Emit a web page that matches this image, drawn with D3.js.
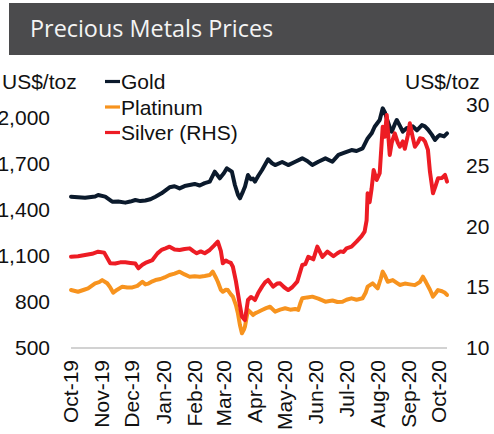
<!DOCTYPE html>
<html>
<head>
<meta charset="utf-8">
<script src="https://cdn.jsdelivr.net/npm/d3@7"></script>
<style>
  html, body { margin: 0; padding: 0; background: #ffffff; }
  svg { display: block; }
</style>
</head>
<body>
<svg id="chart" width="494" height="434"></svg>
<script>
const chartTitle = "Precious Metals Prices";
const unitLabel = "US$/toz";
const seriesNames = ["Gold", "Platinum", "Silver (RHS)"];
const seriesColors = ["#0b1a2c", "#f7931e", "#ed1c24"];
const monthLabels = ["Oct-19","Nov-19","Dec-19","Jan-20","Feb-20","Mar-20","Apr-20","May-20","Jun-20","Jul-20","Aug-20","Sep-20","Oct-20"];
const leftTicks = [500, 800, 1100, 1400, 1700, 2000];
const rightTicks = [10, 15, 20, 25, 30];
const startDate = "2019-10-01";

// day offsets from startDate, prices in US$/toz
const goldDays = [1,8,15,25,28,35,42,48,55,60,65,70,75,80,85,91,99,104,109,114,119,124,129,134,139,144,149,153,156,161,164,167,169,172,174,177,180,182,184,187,191,197,201,204,211,217,224,231,236,241,247,254,261,267,273,280,285,291,296,300,303,308,311,313,315,318,320,323,325,328,331,335,338,341,345,350,353,356,360,363,366,368,372,375];
const goldPrices = [1487,1483,1480,1488,1498,1487,1454,1455,1448,1455,1465,1458,1462,1470,1487,1509,1548,1555,1541,1556,1563,1570,1560,1575,1585,1650,1607,1640,1672,1650,1563,1500,1476,1520,1552,1628,1600,1605,1585,1620,1661,1731,1705,1693,1713,1693,1715,1737,1720,1693,1715,1737,1715,1759,1774,1791,1785,1802,1867,1900,1943,1987,2063,2040,1998,1940,1911,1960,1987,1950,1911,1935,1930,1945,1920,1954,1945,1925,1890,1857,1880,1889,1880,1900];

const platinumDays = [1,8,14,18,25,29,32,37,40,43,47,52,57,62,67,72,75,78,82,85,90,94,99,104,109,114,119,124,129,134,139,142,145,147,150,152,155,157,160,162,165,167,169,171,173,174,177,180,182,184,187,191,195,199,204,209,214,219,224,227,229,231,236,241,247,254,261,266,271,275,280,285,291,294,296,301,306,309,311,313,316,321,325,328,333,338,343,348,351,354,358,361,364,366,370,373,375];
const platinumPrices = [878,867,880,889,922,930,943,922,895,861,880,900,895,895,905,932,915,920,935,943,950,960,976,985,998,980,965,968,965,970,976,998,960,932,880,867,880,878,850,835,780,726,650,596,620,639,748,730,715,726,735,748,760,769,737,750,759,750,755,748,790,824,830,835,822,802,810,800,802,815,824,815,824,860,900,922,889,950,998,975,932,943,925,911,920,915,910,930,965,930,880,835,860,878,870,860,846];

const silverDays = [1,8,15,22,28,34,40,45,50,55,60,65,68,72,75,82,87,91,95,99,104,109,114,119,123,126,130,134,139,143,147,150,152,155,157,160,162,165,167,169,171,174,177,180,182,184,187,191,194,197,202,206,209,213,217,221,226,231,234,237,242,246,251,256,262,266,269,272,275,280,285,290,293,295,296,298,300,302,305,308,311,313,315,318,320,323,326,328,331,333,336,338,341,343,346,348,351,353,356,358,361,363,366,370,373,375];
const silverPrices = [17.52,17.55,17.65,17.75,17.93,17.85,16.97,16.95,17.05,17.05,17.0,16.95,16.56,16.85,17.0,17.24,17.79,18.07,18.2,18.34,18.1,18.07,18.15,18.2,17.95,17.8,17.95,17.8,18.07,18.4,18.75,18.0,16.97,17.2,17.1,17.0,16.69,15.5,14.5,13.5,12.58,12.3,13.95,14.2,14.09,13.95,14.5,15.05,15.4,15.6,15.05,15.3,15.32,15.0,14.77,15.0,15.46,16.83,16.9,17.5,17.3,18.34,17.5,17.93,17.55,17.8,17.95,17.9,18.2,18.34,18.75,19.2,19.57,20.5,22.73,22.0,23.14,24.65,23.83,24.38,28.2,27.39,29.18,25.89,26.9,27.67,26.9,26.57,27.0,26.4,27.5,28.49,27.3,26.57,26.9,27.26,27.2,27.0,26.3,24.5,22.73,23.2,23.97,24.0,24.24,23.69];

const svg = d3.select("#chart");
const FONT = "'Liberation Sans', Arial, sans-serif";
const parse = d3.timeParse("%Y-%m-%d");
const t0 = parse(startDate);
const toDate = d => d3.timeDay.offset(t0, d);

// title bar
svg.append("rect").attr("x", 9).attr("y", 3).attr("width", 485).attr("height", 52).attr("fill", "#4b4b4d");
svg.append("text").attr("x", 30).attr("y", 37).attr("fill", "#f4f4f4")
  .attr("font-family", "'Open Sans', sans-serif").attr("font-size", 23.4).text(chartTitle);

const x = d3.scaleTime().domain([t0, d3.timeMonth.offset(t0, 12)]).range([70, 438]);
const yL = d3.scaleLinear().domain([500, 2000]).range([348, 118]);
const yR = d3.scaleLinear().domain([10, 30]).range([348, 105]);

// baseline
const allDays = goldDays.concat(platinumDays, silverDays);
svg.append("line")
  .attr("x1", x(toDate(d3.min(allDays)))).attr("x2", x(toDate(d3.max(allDays))))
  .attr("y1", yL(500)).attr("y2", yL(500))
  .attr("stroke", "#a6a6a6").attr("stroke-width", 1.2);

// axes
const xAxis = svg.append("g").attr("transform", `translate(0,${yL(500)})`)
  .call(d3.axisBottom(x).tickValues(d3.timeMonth.range(t0, d3.timeDay.offset(d3.timeMonth.offset(t0, 12), 1)))
    .tickFormat((d, i) => monthLabels[i]).tickSize(0));
xAxis.select(".domain").remove();
xAxis.selectAll("text").attr("transform", "rotate(-90)").attr("text-anchor", "end")
  .attr("x", -12).attr("y", 0).attr("dy", "0.36em")
  .attr("font-family", FONT).attr("font-size", 21).attr("fill", "#111");

const lAxis = svg.append("g").attr("transform", "translate(50,0)")
  .call(d3.axisLeft(yL).tickValues(leftTicks).tickFormat(d3.format(",")).tickSize(0).tickPadding(0));
lAxis.select(".domain").remove();
lAxis.selectAll("text").attr("font-family", FONT).attr("font-size", 21).attr("fill", "#111");

const rAxis = svg.append("g").attr("transform", "translate(466,0)")
  .call(d3.axisRight(yR).tickValues(rightTicks).tickSize(0).tickPadding(0));
rAxis.select(".domain").remove();
rAxis.selectAll("text").attr("font-family", FONT).attr("font-size", 21).attr("fill", "#111");

// unit labels
svg.append("text").attr("x", 2).attr("y", 89).attr("font-family", FONT).attr("font-size", 21).attr("fill", "#111").text(unitLabel);
svg.append("text").attr("x", 405).attr("y", 89).attr("font-family", FONT).attr("font-size", 21).attr("fill", "#111").text(unitLabel);

// lines
const series = [
  { days: goldDays, vals: goldPrices, y: yL },
  { days: platinumDays, vals: platinumPrices, y: yL },
  { days: silverDays, vals: silverPrices, y: yR }
];
series.forEach((s, i) => {
  const pts = s.days.map((d, j) => [toDate(d), s.vals[j]]);
  const line = d3.line().x(p => x(p[0])).y(p => s.y(p[1]));
  svg.append("path").datum(pts).attr("d", line).attr("fill", "none")
    .attr("stroke", seriesColors[i]).attr("stroke-width", 4)
    .attr("stroke-linejoin", "round").attr("stroke-linecap", "round");
});

// legend
const legend = svg.append("g");
seriesNames.forEach((name, i) => {
  const by = 89 + i * 25.5;
  legend.append("line").attr("x1", 105).attr("x2", 120).attr("y1", by - 7.5).attr("y2", by - 7.5)
    .attr("stroke", seriesColors[i]).attr("stroke-width", 3.2);
  legend.append("text").attr("x", 121).attr("y", by).attr("font-family", FONT).attr("font-size", 21)
    .attr("fill", "#111").text(name);
});
</script>
</body>
</html>
